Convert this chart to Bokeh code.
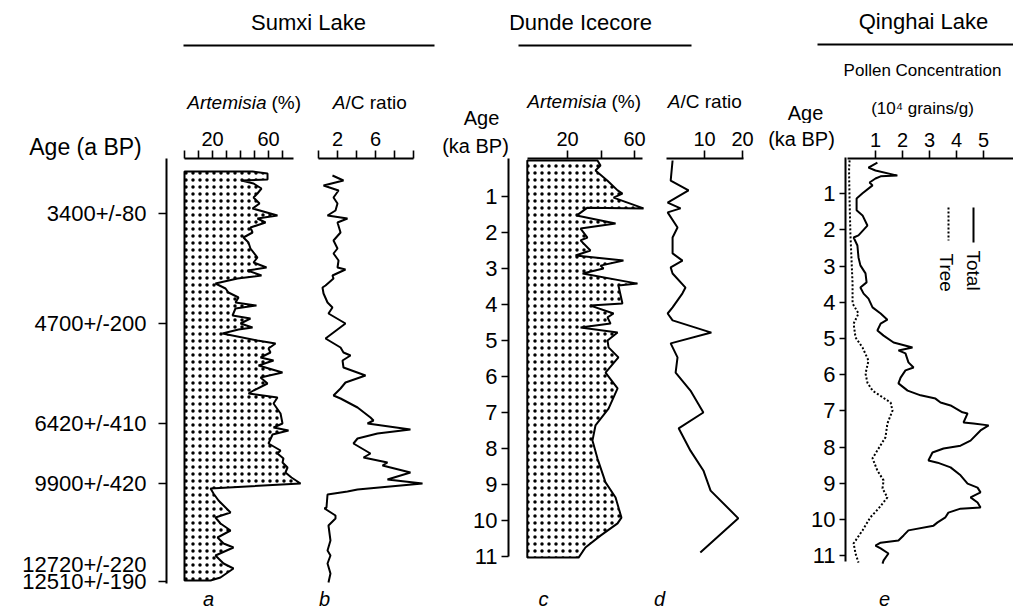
import math
from bokeh.plotting import figure
from bokeh.layouts import row, column
from bokeh.models import Range1d, LinearAxis, FixedTicker
from bokeh.core.properties import value
from bokeh.embed import file_html
from bokeh.resources import INLINE

FONT = "Liberation Sans"

# ---------------- data ----------------
# Sumxi Lake (vertical axis = core depth units, dated levels as tick labels)
sumxi_tick_depth = [110, 330, 530, 650, 846]
sumxi_tick_labels = ["3400+/-80", "4700+/-200", "6420+/-410", "9900+/-420", "12510+/-190"]
sumxi_extra_depth = 812
sumxi_extra_label = "12720+/-220"

sumxi_art_depth = [26, 30, 42, 44, 50, 60, 70, 78, 90, 100, 114, 120, 128, 138, 148, 158, 168, 180, 198, 208,
                   218, 224, 234, 240, 250, 260, 268, 278, 288, 294, 300, 314, 320, 330, 338, 342, 350, 364, 370, 380,
                   388, 398, 404, 414, 428, 438, 450, 464, 470, 478, 490, 510, 530, 538, 544, 552, 570, 584, 590, 600,
                   608, 618, 628, 638, 650, 660, 670, 684, 708, 718, 730, 744, 758, 770, 778, 794, 810, 820, 838, 844]
sumxi_art_pct = [48.6, 59.3, 59.3, 40.7, 49.3, 55.0, 52.1, 49.3, 53.6, 48.6, 66.4, 52.1, 57.9, 47.1, 48.6, 42.1, 45.7, 47.1, 52.1, 49.3,
                 58.6, 45.0, 55.0, 37.9, 22.1, 29.3, 31.4, 38.6, 36.4, 51.4, 36.4, 34.3, 47.1, 40.0, 48.6, 38.6, 27.1, 52.1, 65.0, 60.0,
                 61.4, 54.3, 63.6, 52.9, 70.0, 54.3, 59.3, 49.3, 45.7, 66.4, 63.6, 68.6, 70.0, 63.6, 74.3, 62.9, 60.0, 68.6, 66.4, 70.7,
                 70.0, 73.6, 72.1, 76.4, 82.9, 18.6, 20.7, 24.3, 32.9, 22.1, 25.7, 32.9, 23.6, 27.9, 35.0, 22.1, 27.9, 35.0, 25.7, 18.6]

sumxi_ac_depth = [34, 44, 54, 64, 78, 90, 104, 114, 120, 128, 148, 164, 180, 190, 204, 218, 222, 234, 240, 254,
                  258, 270, 288, 298, 310, 330, 360, 378, 388, 394, 404, 418, 434, 448, 460, 474, 480, 498, 518, 524,
                  530, 542, 550, 560, 570, 590, 598, 608, 614, 628, 642, 650, 662, 666, 672, 698, 700, 714, 720, 734,
                  764, 784, 794, 810, 830, 848]
sumxi_ac_ratio = [1.47, 2.63, 0.53, 2.11, 1.58, 2.00, 1.79, 0.95, 3.05, 2.00, 2.32, 1.58, 2.00, 1.58, 2.11, 2.00, 2.84, 1.47, 1.58, 0.74,
                  0.42, 0.53, 0.95, 1.47, 1.05, 2.84, 0.74, 2.32, 2.63, 3.37, 2.53, 2.63, 4.95, 2.84, 2.32, 1.58, 2.32, 4.11, 5.47, 5.79,
                  5.16, 9.68, 6.21, 4.11, 3.68, 5.47, 4.74, 7.26, 6.74, 9.68, 7.26, 10.95, 4.11, 3.05, 0.95, 0.84, 0.63, 1.79, 1.79, 1.05,
                  1.26, 0.95, 1.26, 0.95, 1.26, 1.05]

# Dunde Icecore (age in ka BP)
dunde_art_age = [0.00, 0.14, 0.28, 0.56, 0.83, 0.92, 1.03, 1.33, 1.31, 1.53, 1.75, 1.89, 2.14, 2.22, 2.50, 2.64, 2.78, 2.92, 3.00, 3.14,
                 3.42, 3.47, 3.97, 4.03, 4.25, 4.36, 4.53, 4.64, 4.78, 5.00, 5.19, 5.47, 5.89, 6.33, 6.89, 7.36, 7.78, 8.28, 8.94, 9.36,
                 9.92, 10.08, 10.42, 10.75, 11.03]
dunde_art_pct = [37.9, 39.7, 36.7, 43.9, 49.9, 52.8, 47.5, 65.4, 31.9, 25.4, 48.7, 27.8, 31.9, 27.8, 33.7, 24.8, 53.4, 39.7, 41.5, 29.0,
                 61.8, 50.4, 52.8, 33.7, 47.5, 43.9, 45.7, 27.8, 49.9, 43.9, 44.5, 50.4, 42.7, 49.9, 44.5, 36.7, 34.9, 37.9, 42.7, 48.7,
                 52.2, 49.9, 39.7, 30.7, 26.6]
dunde_art_base = -4.0

dunde_ac_age = [0.00, 0.56, 0.83, 1.17, 1.33, 1.44, 1.86, 2.14, 2.58, 2.78, 2.97, 3.14, 3.53, 3.69, 4.08, 4.25, 4.44, 4.78, 5.08, 5.47,
                5.89, 6.39, 7.00, 7.44, 8.06, 8.61, 9.17, 9.94, 10.89]
dunde_ac_ratio = [1.6, 1.1, 5.8, 0.3, 3.7, 0.3, 2.9, 1.6, 1.6, 4.2, 1.1, 1.6, 5.0, 4.2, 1.6, 0.3, 1.6, 11.8, 1.1, 2.9,
                  2.4, 6.3, 9.7, 3.2, 6.3, 9.7, 11.6, 18.9, 8.9]

# Qinghai Lake pollen concentration (10^4 grains/g)
qinghai_total_age = [0.14, 0.28, 0.36, 0.50, 0.52, 0.58, 0.69, 0.77, 0.99, 1.13, 1.46, 1.60, 1.88, 2.15, 2.21, 2.43, 2.76, 2.98, 3.20, 3.45,
                     3.59, 3.76, 3.90, 4.14, 4.31, 4.48, 4.59, 4.78, 4.92, 5.11, 5.25, 5.33, 5.41, 5.66, 5.80, 5.88, 6.08, 6.24, 6.44, 6.57,
                     6.66, 6.77, 6.85, 7.04, 7.07, 7.32, 7.35, 7.40, 7.54, 7.82, 7.96, 8.04, 8.15, 8.37, 8.43, 8.56, 8.78, 9.01, 9.12, 9.25,
                     9.39, 9.53, 9.67, 9.70, 9.81, 9.94, 10.08, 10.17, 10.30, 10.44, 10.58, 10.64, 10.72, 10.80, 10.94, 11.13, 11.22]
qinghai_total = [1.07, 0.74, 1.00, 1.81, 1.19, 1.00, 0.78, 0.89, 0.52, 0.30, 0.30, 0.52, 0.70, 0.37, 0.19, 0.33, 0.37, 0.44, 0.63, 0.67,
                 0.44, 0.56, 0.74, 0.89, 1.19, 1.44, 1.19, 1.07, 1.30, 1.67, 2.37, 1.85, 2.11, 2.22, 2.41, 2.11, 1.93, 1.85, 2.19, 2.67,
                 3.22, 3.41, 3.78, 4.22, 4.41, 4.26, 4.63, 5.19, 4.89, 4.52, 4.15, 3.52, 3.11, 2.96, 3.30, 3.78, 4.15, 4.41, 4.78, 4.89,
                 4.52, 4.78, 4.89, 4.15, 3.70, 3.59, 3.30, 3.15, 2.22, 2.04, 1.85, 1.19, 1.00, 1.19, 1.48, 1.30, 1.26]
qinghai_tree_age = [0.08, 0.36, 1.19, 2.10, 3.48, 4.03, 4.31, 4.59, 4.97, 5.25, 5.61, 5.97, 6.22, 6.44, 6.77, 6.99, 7.35, 7.73, 8.09, 8.31,
                    8.65, 8.92, 9.14, 9.39, 9.70, 9.94, 10.30, 10.66, 10.94, 11.19]
qinghai_tree = [0.04, 0.02, 0.04, 0.07, 0.15, 0.15, 0.37, 0.19, 0.26, 0.52, 0.74, 0.63, 0.70, 0.89, 1.56, 1.63, 1.44, 1.37, 1.07, 0.89,
                1.07, 1.30, 1.26, 1.44, 1.11, 0.81, 0.52, 0.19, 0.26, 0.37]

age_ticks = list(range(1, 12))
age_tick_labels = [str(t) for t in age_ticks]

# ---------------- layout geometry (picture pixels) ----------------
BOTTOM = 610      # bottom of the page content
FT = 158          # top of the data frames (top axis lines)
H_S, H_D, H_Q = 120, 120, 123   # header strip heights


def lin(r0, v0, r1, v1):
    k = (v1 - v0) / (r1 - r0)
    return lambda r: v0 + (r - r0) * k


ident = lambda r: r


def fig(x0, x1, y0, y1, fx, fy, bl=0, br=0, bt=0):
    p = figure(frame_width=x1 - x0, frame_height=y1 - y0,
               x_range=Range1d(fx(x0), fx(x1)), y_range=Range1d(fy(y1), fy(y0)),
               min_border_left=bl, min_border_right=br, min_border_top=bt, min_border_bottom=0,
               toolbar_location=None, output_backend="svg",
               x_axis_location=None, y_axis_location=None)
    p.outline_line_color = None
    p.grid.visible = False
    p.background_fill_color = "white"
    p.border_fill_color = "white"
    return p


def style_axis(ax, size, tick_out, tick_in, standoff):
    ax.axis_line_width = 2
    ax.axis_line_color = "black"
    ax.major_tick_line_width = 1.6
    ax.major_tick_line_color = "black"
    ax.major_tick_out = tick_out
    ax.major_tick_in = tick_in
    ax.minor_tick_out = 0
    ax.minor_tick_in = 0
    ax.major_label_text_font = FONT
    ax.major_label_text_font_size = size
    ax.major_label_text_color = "black"
    ax.major_label_standoff = standoff


def top_axis(p, ticks, shown, bounds, standoff=5):
    ax = LinearAxis(ticker=FixedTicker(ticks=ticks),
                    major_label_overrides={t: (str(t) if t in shown else "") for t in ticks},
                    bounds=bounds)
    style_axis(ax, "20px", 8, 0, standoff)
    p.add_layout(ax, "above")


def age_rule(p, ticks, bounds, tick_len):
    # vertical age axis drawn at the right edge of a label column, ticks pointing left
    ax = LinearAxis(ticker=FixedTicker(ticks=ticks),
                    major_label_overrides={t: "" for t in ticks}, bounds=bounds)
    style_axis(ax, "1px", 0, tick_len, 0)
    p.add_layout(ax, "right")


def txt(p, xs, ys, texts, size, align="center", style="normal", angle=0.0):
    p.text(x=xs, y=ys, text=texts, text_align=align, text_baseline="middle",
           text_font=value(FONT), text_font_size=size, text_font_style=style,
           text_color="black", angle=angle)


HATCH = dict(fill_color="white", hatch_pattern="dot", hatch_color="black",
             hatch_scale=7, hatch_weight=1.4, line_color="black", line_width=2)

# ================= Sumxi Lake =================
fy_s = lin(FT, 0, 583, 850)
hdrS = fig(0, 436, 0, H_S, ident, ident)
txt(hdrS, [308], [22], ["Sumxi Lake"], "22px")
hdrS.segment(x0=[183], y0=[45], x1=[434], y1=[45], line_color="black", line_width=2)
txt(hdrS, [266], [102], ["Artemisia"], "19px", align="right", style="italic")
txt(hdrS, [271], [102], ["(%)"], "19px", align="left")
txt(hdrS, [345], [102], ["A"], "19px", align="right", style="italic")
txt(hdrS, [345], [102], ["/C ratio"], "19px", align="left")

la = fig(0, 166, H_S, BOTTOM, ident, fy_s, br=2)
age_rule(la, sumxi_tick_depth, (0, 850), 8)
txt(la, [146] * len(sumxi_tick_depth), sumxi_tick_depth, sumxi_tick_labels, "22px", align="right")
txt(la, [146], [sumxi_extra_depth], [sumxi_extra_label], "22px", align="right")
txt(la, [85], [fy_s(146)], ["Age (a BP)"], "23px")

fxa = lin(184, 0, 212, 20)
pa = fig(168, 302, FT, BOTTOM, fxa, fy_s, bt=FT - H_S)
top_axis(pa, list(range(0, 80, 10)), [20, 60], (0, 78))
pa.patch([0] + sumxi_art_pct + [0], [sumxi_art_depth[0]] + sumxi_art_depth + [sumxi_art_depth[-1]], **HATCH)
txt(pa, [fxa(208)], [fy_s(598)], ["a"], "20px", style="italic")

fxb = lin(318, 0, 337, 2)
pb = fig(313, 436, FT, BOTTOM, fxb, fy_s, bl=11, bt=FT - H_S)
top_axis(pb, [0, 2, 4, 6, 8, 10], [2, 6], (0, 10))
pb.line(sumxi_ac_ratio, sumxi_ac_depth, line_color="black", line_width=2)
txt(pb, [fxb(324)], [fy_s(598)], ["b"], "20px", style="italic")

# the label column is wrapped in its own column so that its frame is not aligned with the panels
colS = column(hdrS, row(column(la), pa, pb))

# ================= Dunde Icecore =================
fy_d = lin(160, 0, 556, 11)
lc = fig(436, 508, 0, BOTTOM, ident, fy_d, br=2)
age_rule(lc, age_ticks, (fy_d(FT), 11), 7)
txt(lc, [497] * len(age_ticks), age_ticks, age_tick_labels, "22px", align="right")
txt(lc, [481], [fy_d(117)], ["Age"], "20px")
txt(lc, [475], [fy_d(145)], ["(ka BP)"], "20px")

hdrD = fig(510, 760, 0, H_D, ident, ident)
txt(hdrD, [580], [22], ["Dunde Icecore"], "22px")
hdrD.segment(x0=[518], y0=[45], x1=[691], y1=[45], line_color="black", line_width=2)
txt(hdrD, [606], [101], ["Artemisia"], "19px", align="right", style="italic")
txt(hdrD, [611], [101], ["(%)"], "19px", align="left")
txt(hdrD, [680], [101], ["A"], "19px", align="right", style="italic")
txt(hdrD, [680], [101], ["/C ratio"], "19px", align="left")

fxc = lin(533.5, 0, 567, 20)
pc = fig(510, 652, FT, BOTTOM, fxc, fy_d, bt=FT - H_D)
top_axis(pc, [20, 40, 60], [20, 60], (dunde_art_base, 65))
pc.patch([dunde_art_base] + dunde_art_pct + [dunde_art_base],
         [dunde_art_age[0]] + dunde_art_age + [dunde_art_age[-1]], **HATCH)
txt(pc, [fxc(543)], [fy_d(598)], ["c"], "20px", style="italic")

fxd = lin(666, 0, 704, 10)
pdd = fig(652, 760, FT, BOTTOM, fxd, fy_d, bt=FT - H_D)
top_axis(pdd, [10, 20], [10, 20], (0, 20.3))
pdd.line(dunde_ac_ratio, dunde_ac_age, line_color="black", line_width=2)
txt(pdd, [fxd(659)], [fy_d(598)], ["d"], "20px", style="italic")

colD = column(hdrD, row(pc, pdd))

# ================= Qinghai Lake =================
fy_q = lin(157, 0, 193.2, 1)
hdrQ = fig(760, 1013, 0, H_Q, ident, ident)
txt(hdrQ, [923], [21], ["Qinghai Lake"], "22px")
hdrQ.segment(x0=[817], y0=[44], x1=[1013], y1=[44], line_color="black", line_width=2)
txt(hdrQ, [922], [70], ["Pollen Concentration"], "17px")
txt(hdrQ, [922], [108], ["(10\u2074 grains/g)"], "17px")
txt(hdrQ, [805], [112], ["Age"], "20px")

le = fig(760, 845, H_Q, BOTTOM, ident, fy_q, br=2)
age_rule(le, age_ticks, (fy_q(157), 11.15), 6)
txt(le, [835] * len(age_ticks), age_ticks, age_tick_labels, "22px", align="right")
txt(le, [801], [fy_q(138)], ["(ka BP)"], "20px")

fxe = lin(848, 0, 875, 1)
pe = fig(847, 1013, FT, BOTTOM, fxe, fy_q, bt=FT - H_Q)
top_axis(pe, [1, 2, 3, 4, 5], [1, 2, 3, 4, 5], (fxe(847), fxe(1013)), standoff=4)
pe.line(qinghai_total, qinghai_total_age, line_color="black", line_width=2)
pe.line(qinghai_tree, qinghai_tree_age, line_color="black", line_width=2, line_dash="2 2")
# rotated legend
pe.segment(x0=[fxe(973)], y0=[fy_q(207)], x1=[fxe(973)], y1=[fy_q(242)], line_color="black", line_width=2)
pe.segment(x0=[fxe(948)], y0=[fy_q(207)], x1=[fxe(948)], y1=[fy_q(240)], line_color="black", line_width=2,
           line_dash="2 2")
txt(pe, [fxe(973)], [fy_q(250)], ["Total"], "19px", align="left", angle=-math.pi / 2)
txt(pe, [fxe(946)], [fy_q(253)], ["Tree"], "19px", align="left", angle=-math.pi / 2)
txt(pe, [fxe(884)], [fy_q(598)], ["e"], "20px", style="italic")

colQ = column(hdrQ, row(column(le), pe))

layout = row(colS, lc, colD, colQ)
open("out.html", "w").write(file_html(layout, INLINE))
